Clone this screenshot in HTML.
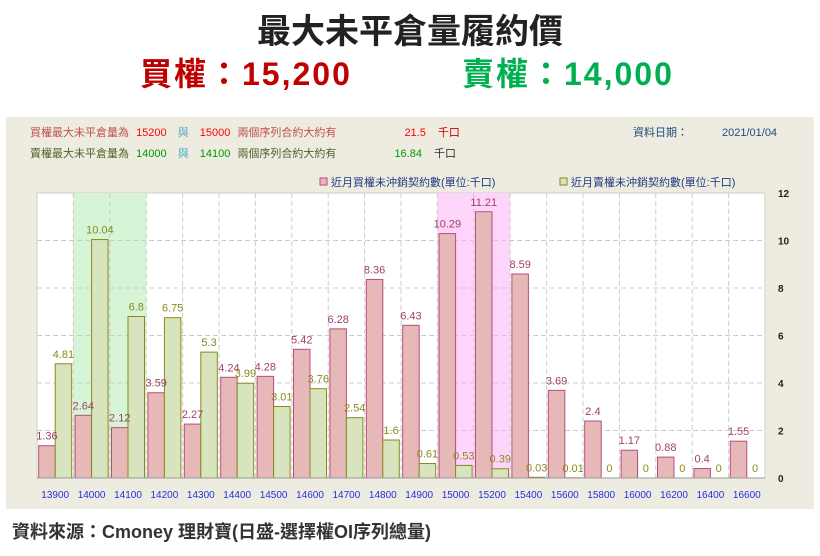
<!DOCTYPE html>
<html><head><meta charset="utf-8"><style>
body{margin:0;width:820px;height:556px;background:#fff;font-family:"Liberation Sans","Noto Sans CJK TC",sans-serif;overflow:hidden;position:relative}
.t{position:absolute;white-space:nowrap}
</style></head><body>
<div class="t" style="left:0;width:820px;text-align:center;top:4px;font-size:34px;font-weight:bold;color:#222">最大未平倉量履約價</div>
<div class="t" style="left:140px;top:49px;font-size:32px;letter-spacing:2px;font-weight:bold;color:#c00000">買權：15,200</div>
<div class="t" style="left:462px;top:49px;font-size:32px;letter-spacing:2px;font-weight:bold;color:#00b050">賣權：14,000</div>
<div style="position:absolute;left:6px;top:117px;width:808px;height:392px;background:#eeece1"></div>
<div class="t" style="left:30px;top:124px;font-size:11px;color:#c0504d">買權最大未平倉量為 <span style="color:#f00;margin-left:4px">15200</span> <span style="color:#4bacc6;margin:0 8px">與</span> <span style="color:#f00">15000</span> <span style="color:#c0504d;margin-left:4px">兩個序列合約大約有</span><span style="color:#f00;margin-left:68px">21.5</span><span style="color:#c00;margin-left:12px">千口</span></div>
<div class="t" style="left:30px;top:145px;font-size:11px;color:#4f6228">賣權最大未平倉量為 <span style="color:#090;margin-left:4px">14000</span> <span style="color:#4bacc6;margin:0 8px">與</span> <span style="color:#090">14100</span> <span style="color:#4f6228;margin-left:4px">兩個序列合約大約有</span><span style="color:#090;margin-left:58px">16.84</span><span style="color:#333;margin-left:12px">千口</span></div>
<div class="t" style="left:633px;top:124px;font-size:11px;color:#1f497d">資料日期：<span style="margin-left:34px">2021/01/04</span></div>
<div class="t" style="left:12px;top:518px;font-size:18px;font-weight:bold;color:#333">資料來源：Cmoney 理財寶(日盛-選擇權OI序列總量)</div>
<svg id="c" width="820" height="556" style="position:absolute;left:0;top:0"></svg>
<script>
const categories=["13900","14000","14100","14200","14300","14400","14500","14600","14700","14800","14900","15000","15200","15400","15600","15800","16000","16200","16400","16600"];
const callValues=[1.36,2.64,2.12,3.59,2.27,4.24,4.28,5.42,6.28,8.36,6.43,10.29,11.21,8.59,3.69,2.4,1.17,0.88,0.4,1.55];
const putValues=[4.81,10.04,6.8,6.75,5.3,3.99,3.01,3.76,2.54,1.6,0.61,0.53,0.39,0.03,0.01,0,0,0,0,0];
const yTicks=[0,2,4,6,8,10,12];
const putHighlight=["14000","14100"];
const callHighlight=["15000","15200"];
const NS="http://www.w3.org/2000/svg",svg=document.getElementById('c');
const L=37,R=765,T=193,B=478,cw=(R-L)/categories.length;
const y=v=>B-(B-T)*v/12, x=i=>L+i*cw;
function mk(t,a,p){const e=document.createElementNS(NS,t);for(const k in a)e.setAttribute(k,a[k]);(p||svg).appendChild(e);return e;}
let e=mk('rect',{x:L,y:T,width:R-L,height:B-T,fill:'#fff',stroke:'#ccc'});

categories.forEach((c,i)=>{
 if(putHighlight.includes(c)){e=mk('rect',{x:x(i),y:T,width:cw,height:B-T,fill:'#d6f5d6'});}
 if(callHighlight.includes(c)){e=mk('rect',{x:x(i),y:T,width:cw,height:B-T,fill:'#fdd5fb'});}
});
yTicks.forEach(t=>{
 if(t>0&&t<12){e=mk('line',{x1:L,x2:R,y1:y(t),y2:y(t),stroke:'#ccc','stroke-dasharray':'5,3'});}
 e=mk('text',{x:778,y:y(t)+4,'font-size':10,'font-weight':'bold',fill:'#222'});e.textContent=t;
 
});
for(let i=1;i<categories.length;i++){e=mk('line',{x1:x(i),x2:x(i),y1:T,y2:B,stroke:'#ccc','stroke-dasharray':'5,3'});}
categories.forEach((c,i)=>{
 const bw=16.5,cx=x(i)+cw/2;
 e=mk('rect',{x:cx-bw,y:y(callValues[i]),width:bw,height:B-y(callValues[i]),fill:'#e6b9b8',stroke:'#b84c7a','stroke-width':1});
 
 e=mk('rect',{x:cx,y:y(putValues[i]),width:bw,height:B-y(putValues[i]),fill:'#d7e4bd',stroke:'#8a8a1a','stroke-width':1});
 
 e=mk('text',{x:cx-bw/2,y:y(callValues[i])-6,'font-size':11,fill:'#a0406a','text-anchor':'middle'});e.textContent=callValues[i];
 
 e=mk('text',{x:cx+bw/2,y:y(putValues[i])-6,'font-size':11,fill:'#8a8a1a','text-anchor':'middle'});e.textContent=putValues[i];
 
 e=mk('text',{x:cx,y:498,'font-size':10,fill:'#2030e0','text-anchor':'middle'});e.textContent=c;
 
});
e=mk('line',{x1:L,x2:R,y1:B,y2:B,stroke:'#999'});
e=mk('rect',{x:320,y:178,width:7,height:7,fill:'#e6b9b8',stroke:'#b84c7a'});
e=mk('text',{x:331,y:186,'font-size':11,fill:'#1f3a7d'});e.textContent='近月買權未沖銷契約數(單位:千口)';
e=mk('rect',{x:560,y:178,width:7,height:7,fill:'#d7e4bd',stroke:'#8a8a1a'});
e=mk('text',{x:571,y:186,'font-size':11,fill:'#1f3a7d'});e.textContent='近月賣權未沖銷契約數(單位:千口)';
</script>
</body></html>
